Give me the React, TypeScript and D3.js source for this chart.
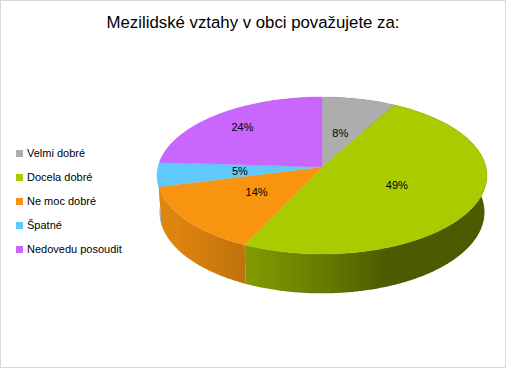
import React from 'react';
import * as d3 from 'd3';

const title = 'Mezilidské vztahy v obci považujete za:';
const categories = ['Velmi dobré', 'Docela dobré', 'Ne moc dobré', 'Špatné', 'Nedovedu posoudit'];
const shares = [8, 49, 14, 5, 24];
const colors = ['#adadad', '#aacb00', '#f99410', '#62c9fc', '#c866fd'];
// how far out (fraction of radius) Excel put each data label
const labelRadius = [0.47, 0.5, 0.5, 0.5, 0.75];

const W = 511;
const H = 368;
const FONT = "'Liberation Sans', Arial, sans-serif";

// perspective projection of a flat cylinder (3D pie)
const cx = 322;
const cy = 167;
const R = 0.123;
const f = 1333;
const sinP = 0.473;
const cosP = Math.sqrt(1 - sinP * sinP);
const depth = 0.0315;

function proj(theta: number, rho: number, z: number): [number, number] {
  const u = -rho * R * Math.cos(theta);
  const X = rho * R * Math.sin(theta);
  const Yc = u * sinP + z * depth * cosP;
  const Zc = u * cosP - z * depth * sinP;
  const s = f / (1 - Zc);
  return [cx + X * s, cy + Yc * s];
}

function shade(color: string, theta: number) {
  // light from the front-left
  const k = 0.45 + 0.45 * Math.max(0, Math.cos(theta - (250 * Math.PI) / 180));
  const c = d3.rgb(color);
  return d3.rgb(c.r * k, c.g * k, c.b * k).formatHex();
}

function arcPoints(a0: number, a1: number, z: number) {
  const n = Math.max(2, Math.ceil(((a1 - a0) * 180) / Math.PI) * 2);
  return d3.range(n + 1).map((j) => proj(a0 + ((a1 - a0) * j) / n, 1, z));
}

export default function App() {
  const pie = d3.pie<number>().sort(null).value((d) => d)(shares);
  const line = d3.line();

  const walls = pie.map((p, i) => {
    const top = arcPoints(p.startAngle, p.endAngle, 0);
    const bottom = arcPoints(p.startAngle, p.endAngle, 1).reverse();
    const d = line([...top, ...bottom]) + 'Z';
    // gradient over the part that faces the viewer
    const v0 = Math.max(p.startAngle, Math.PI / 2);
    const v1 = Math.min(p.endAngle, (3 * Math.PI) / 2);
    let stops: { x: number; c: string }[] = [];
    if (v0 < v1) {
      stops = d3.range(21).map((j) => {
        const a = v0 + ((v1 - v0) * j) / 20;
        return { x: proj(a, 1, 0)[0], c: shade(colors[i], a) };
      });
    } else {
      const a = p.startAngle < Math.PI / 2 ? Math.PI / 2 : (3 * Math.PI) / 2;
      const x = proj(a, 1, 0)[0];
      stops = [{ x, c: shade(colors[i], a) }, { x: x + 1, c: shade(colors[i], a) }];
    }
    stops.sort((a, b) => a.x - b.x);
    const mid = (p.startAngle + p.endAngle) / 2;
    return { d, stops, key: Math.cos(mid), id: `wall${i}` };
  });
  const wallOrder = [...walls].sort((a, b) => b.key - a.key);

  const tops = pie.map((p, i) => {
    const pts: [number, number][] = [[cx, cy], ...arcPoints(p.startAngle, p.endAngle, 0)];
    return { d: line(pts) + 'Z', fill: colors[i] };
  });

  const labels = pie.map((p, i) => {
    const mid = (p.startAngle + p.endAngle) / 2;
    const [x, y] = proj(mid, labelRadius[i], 0);
    return { x, y, text: `${shares[i]}%` };
  });

  const legendY = d3.scalePoint<string>().domain(categories).range([153.5, 249.5]);

  return (
    <>
      <style>{`body{margin:0}`}</style>
      <svg width={W} height={H} style={{ display: 'block' }}>
        <defs>
          {walls.map((w) => {
            const x1 = w.stops[0].x;
            const x2 = w.stops[w.stops.length - 1].x;
            return (
              <linearGradient key={w.id} id={w.id} gradientUnits="userSpaceOnUse" x1={x1} y1={0} x2={x2} y2={0}>
                {w.stops.map((s, j) => (
                  <stop key={j} offset={(s.x - x1) / (x2 - x1 || 1)} stopColor={s.c} />
                ))}
              </linearGradient>
            );
          })}
        </defs>
        <rect x={0} y={0} width={W} height={H} fill="#fff" />
        <rect x={0.5} y={0.5} width={505} height={367} fill="#fff" stroke="#d9d9d9" />
        <text x={253} y={28} textAnchor="middle" fontFamily={FONT} fontSize={16.8} fill="#000">
          {title}
        </text>
        <g>
          {wallOrder.map((w) => (
            <path key={w.id} d={w.d} fill={`url(#${w.id})`} />
          ))}
        </g>
        <g>
          {tops.map((t, i) => (
            <path key={i} d={t.d} fill={t.fill} stroke={t.fill} strokeWidth={0.4} />
          ))}
        </g>
        <g fontFamily={FONT} fontSize={11} fill="#000" textAnchor="middle">
          {labels.map((l, i) => (
            <text key={i} x={l.x} y={l.y} dy="0.35em">
              {l.text}
            </text>
          ))}
        </g>
        <g fontFamily={FONT} fontSize={11} fill="#000">
          {categories.map((c, i) => (
            <g key={c} transform={`translate(0,${legendY(c)})`}>
              <rect x={16} y={-3.5} width={7} height={7} fill={colors[i]} />
              <text x={27} dy="0.35em">
                {c}
              </text>
            </g>
          ))}
        </g>
      </svg>
    </>
  );
}
